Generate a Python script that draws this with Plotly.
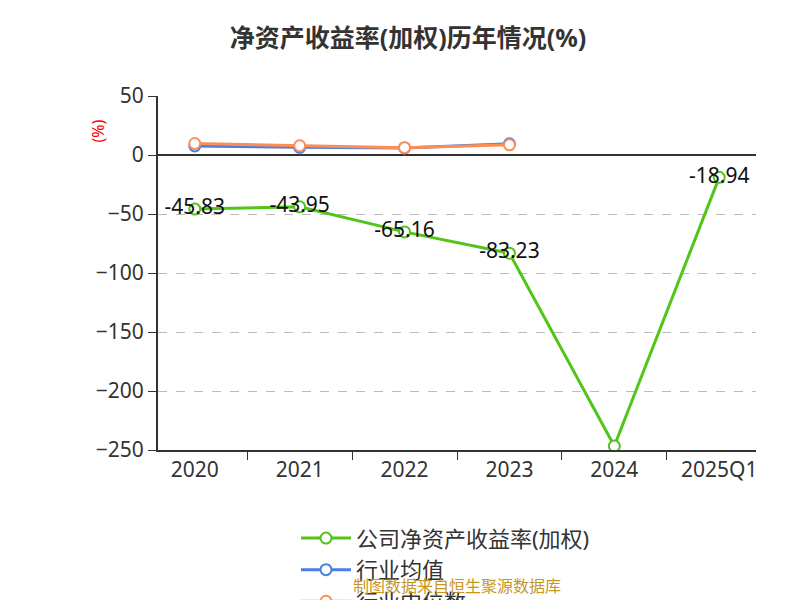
import plotly.graph_objects as go

years = ["2020", "2021", "2022", "2023", "2024", "2025Q1"]
company = [-45.83, -43.95, -65.16, -83.23, -246.66, -18.94]
industry_avg = [7.7, 6.5, 6.0, 9.5]
industry_median = [9.7, 7.8, 6.2, 8.6]
label_pos = ["middle center", "middle center", "middle center", "middle center", "bottom center", "middle center"]

fig = go.Figure()
fig.add_trace(go.Scatter(x=years, y=company, name="公司净资产收益率(加权)    ", mode="lines+markers+text",
    text=[f"{v:.2f}" for v in company], textposition=label_pos,
    textfont=dict(size=21, color="#111", family="Noto Sans"),
    line=dict(color="#52c41a", width=3), marker=dict(size=11, color="white", line=dict(color="#52c41a", width=2))))
fig.add_trace(go.Scatter(x=years[:4], y=industry_avg, name="行业均值    ", mode="lines+markers",
    line=dict(color="#4a7fe0", width=3), marker=dict(size=11, color="white", line=dict(color="#4a7fe0", width=2))))
fig.add_trace(go.Scatter(x=years[:4], y=industry_median, name="行业中位数", mode="lines+markers",
    line=dict(color="#ff8c55", width=3), marker=dict(size=11, color="white", line=dict(color="#ff8c55", width=2))))

fig.update_layout(
    width=800, height=600, paper_bgcolor="white", plot_bgcolor="white",
    font=dict(family="Noto Sans, Noto Sans CJK SC", color="#333"),
    title=dict(text="<b>净资产收益率(加权)历年情况(%)</b>", x=0.5, y=0.965, xanchor="center", font=dict(size=25, color="#333")),
    margin=dict(l=150, r=52, t=88, b=158, autoexpand=False),
    showlegend=True,
    legend=dict(orientation="h", x=0.5, xanchor="center", y=-0.19, yanchor="top", font=dict(size=22, color="#333"),
                itemwidth=50),
    xaxis=dict(type="category", showline=True, linecolor="#333", linewidth=2, ticks="outside",
               tickson="boundaries", ticklen=8, tickcolor="#333", tickfont=dict(size=21, color="#333"), showgrid=False),
    yaxis=dict(range=[-250, 50], dtick=50, showline=True, linecolor="#333", linewidth=2, ticks="outside",
               ticklen=8, tickcolor="#333", tickfont=dict(size=21, color="#333"), zeroline=True, zerolinecolor="#333",
               zerolinewidth=2, showgrid=True, gridcolor="#bbb", griddash="dash"),
    annotations=[
        dict(text="(%)", x=-0.1, y=0.9, xref="paper", yref="paper", showarrow=False, textangle=-90,
             xanchor="center", yanchor="middle", font=dict(size=16, color="red")),
        dict(text="制图数据来自恒生聚源数据库", x=0.5, y=-0.42, xref="paper", yref="paper", showarrow=False,
             font=dict(size=16, color="#c8961e")),
    ],
)
fig.write_html("out.html")
